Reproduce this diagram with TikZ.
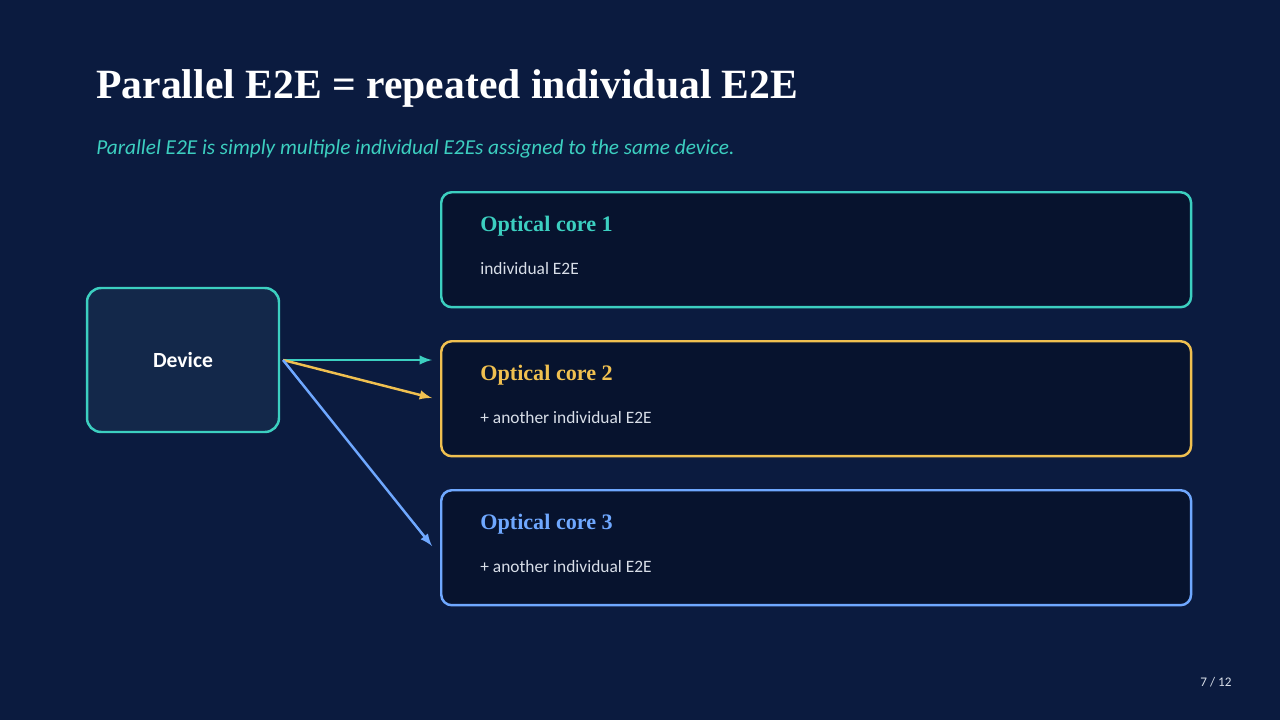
\documentclass[tikz,border=0pt]{standalone}
\usepackage{fontspec}
\setmainfont{Carlito}
\newfontfamily\titlefont{Liberation Serif}
\usetikzlibrary{positioning}
\definecolor{bgblue}{HTML}{0B1B3F}
\definecolor{boxfill}{HTML}{07132E}
\definecolor{devfill}{HTML}{13284A}
\definecolor{tealc}{HTML}{3CCFC0}
\definecolor{goldc}{HTML}{F0C050}
\definecolor{bluec}{HTML}{6FA8FF}
\definecolor{textc}{HTML}{D8DEE8}
\tikzset{
  core/.style={draw=#1, line width=1.4pt, rounded corners=6pt, fill=boxfill,
    minimum width=15cm, minimum height=2.3cm, anchor=north west},
  corehead/.style={text=#1, font=\titlefont\bfseries\fontsize{12.6}{14}\selectfont, anchor=west, inner sep=0pt},
  coretext/.style={text=textc, font=\fontsize{9.9}{11}\selectfont, anchor=west, inner sep=0pt},
  link/.style={draw=#1, line width=1.4pt, -latex}
}
\begin{document}
\begin{tikzpicture}[x=0.02cm,y=-0.02cm]
\fill[bgblue] (0,0) rectangle (1280,720);
\useasboundingbox (0,0) rectangle (1280,720);

\node[anchor=west, inner sep=0pt, text=white, font=\titlefont\bfseries\fontsize{23.7}{27}\selectfont] (title) at (96,88) {Parallel E2E = repeated individual E2E};
\node[anchor=west, inner sep=0pt, text=tealc, font=\itshape\fontsize{12.1}{14}\selectfont] (subtitle) at (96,149) {Parallel E2E is simply multiple individual E2Es assigned to the same device.};

\node[draw=tealc, line width=1.4pt, rounded corners=8pt, fill=devfill, minimum width=3.84cm,
  minimum height=2.88cm, text=white, font=\bfseries\fontsize{12.3}{14}\selectfont] (device) at (183,360) {Device};

\node[core=tealc] (core1) at (440,191) {};
\node[core=goldc] (core2) at (440,340) {};
\node[core=bluec] (core3) at (440,489) {};

\node[corehead=tealc] (head1) at (480,226) {Optical core 1};
\node[coretext] (text1) at (480,269) {individual E2E};
\node[corehead=goldc] (head2) at (480,375) {Optical core 2};
\node[coretext] (text2) at (480,418) {+ another individual E2E};
\node[corehead=bluec] (head3) at (480,524) {Optical core 3};
\node[coretext] (text3) at (480,567) {+ another individual E2E};

\coordinate (start) at (283,360);
\coordinate (end1) at (432,360);
\coordinate (end2) at (432,398);
\coordinate (end3) at (432,546);
\draw[link=tealc] (start) -- (end1);
\draw[link=goldc] (start) -- (end2);
\draw[link=bluec] (start) -- (end3);

\node[text=textc, font=\fontsize{7.5}{8}\selectfont] (page) at (1216,682) {7 / 12};
\end{tikzpicture}
\end{document}
